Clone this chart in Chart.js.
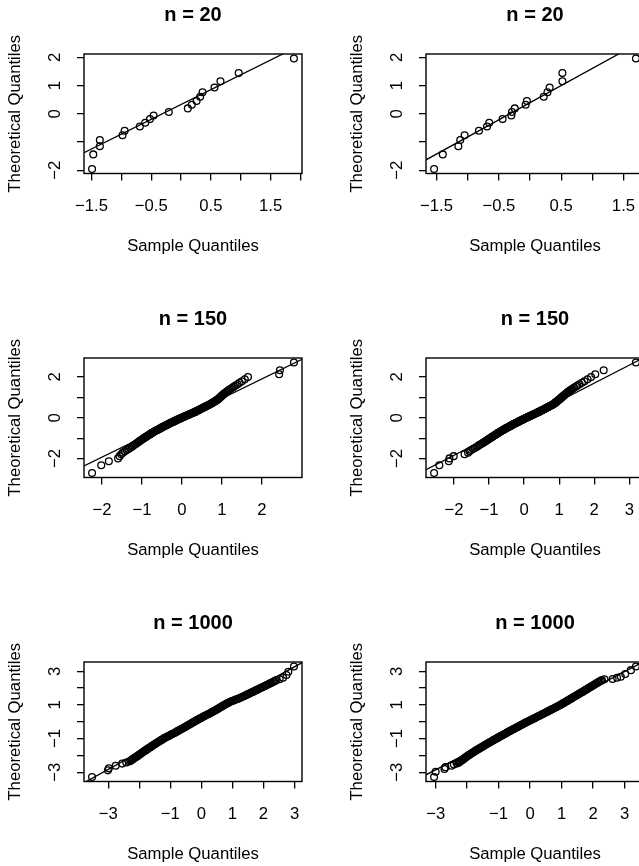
<!DOCTYPE html>
<html>
<head>
<meta charset="utf-8">
<script src="https://cdn.jsdelivr.net/npm/chart.js@4.4.1/dist/chart.umd.min.js"></script>
<style>
  html, body { margin: 0; padding: 0; background: #ffffff; }
  body { width: 639px; height: 866px; overflow: hidden; position: relative; }
  canvas { position: absolute; }
</style>
</head>
<body>
<canvas id="p1" width="342" height="304" style="left:0px;top:0px"></canvas>
<canvas id="p2" width="342" height="304" style="left:342px;top:0px"></canvas>
<canvas id="p3" width="342" height="304" style="left:0px;top:304px"></canvas>
<canvas id="p4" width="342" height="304" style="left:342px;top:304px"></canvas>
<canvas id="p5" width="342" height="304" style="left:0px;top:608px"></canvas>
<canvas id="p6" width="342" height="304" style="left:342px;top:608px"></canvas>
<script>
// ---- n = 20 : theoretical quantiles and two sorted samples ----
const theo20 = [-1.96, -1.44, -1.15, -0.93, -0.76, -0.60, -0.45, -0.32, -0.19, -0.06,
                0.06, 0.19, 0.32, 0.45, 0.60, 0.76, 0.93, 1.15, 1.44, 1.96];
const sampleA20 = [-1.49, -1.47, -1.36, -1.36, -0.98, -0.945, -0.69, -0.60, -0.52, -0.46,
                   -0.205, 0.113, 0.18, 0.26, 0.32, 0.36, 0.56, 0.66, 0.965, 1.89];
const sampleB20 = [-1.54, -1.40, -1.15, -1.12, -1.05, -0.82, -0.69, -0.655, -0.44, -0.30,
                   -0.29, -0.245, -0.07, -0.05, 0.22, 0.28, 0.315, 0.52, 0.52, 1.70];

// ---- n = 150 : shared theoretical quantiles, two sorted samples ----
const theo150 = [-2.71, -2.33, -2.13, -1.99, -1.88, -1.79, -1.71, -1.64,
  -1.58, -1.53, -1.48, -1.43, -1.38, -1.34, -1.30, -1.26, -1.23, -1.19, -1.16, -1.13, -1.10, -1.07, -1.04, -1.01,
  -0.98, -0.95, -0.93, -0.90, -0.88, -0.85, -0.83, -0.81, -0.78, -0.76, -0.74, -0.72, -0.70,
  -0.67, -0.65, -0.63, -0.61, -0.59, -0.57, -0.55, -0.53, -0.52, -0.50, -0.48, -0.46, -0.44, -0.42, -0.40,
  -0.39, -0.37, -0.35, -0.33, -0.31, -0.30, -0.28, -0.26, -0.25, -0.23, -0.21, -0.19, -0.18, -0.16, -0.14,
  -0.13, -0.11, -0.09, -0.08, -0.06, -0.04, -0.03, -0.01,
  0.01, 0.03, 0.04, 0.06, 0.08, 0.09, 0.11, 0.13, 0.14, 0.16, 0.18, 0.19, 0.21, 0.23, 0.25, 0.26,
  0.28, 0.30, 0.31, 0.33, 0.35, 0.37, 0.39,
  0.40, 0.42, 0.44, 0.46, 0.48, 0.50, 0.52, 0.53, 0.55, 0.57, 0.59, 0.61, 0.63, 0.65, 0.67,
  0.70, 0.72, 0.74, 0.76, 0.78, 0.81, 0.83, 0.85, 0.88, 0.90, 0.93, 0.95, 0.98,
  1.01, 1.04, 1.07, 1.10, 1.13, 1.16, 1.19, 1.23, 1.26, 1.30, 1.34, 1.38, 1.43, 1.48, 1.53, 1.58,
  1.64, 1.71, 1.79, 1.88, 1.99, 2.13, 2.33, 2.71];
const sampleA150 = [-2.25, -2.02, -1.83, -1.60, -1.56, -1.52, -1.48, -1.43,
  -1.38, -1.34, -1.30, -1.26, -1.23, -1.20, -1.17, -1.14, -1.12, -1.09, -1.07, -1.05, -1.03, -1.00, -0.98, -0.96,
  -0.94, -0.91, -0.90, -0.87, -0.86, -0.83, -0.82, -0.80, -0.78, -0.76, -0.75, -0.73, -0.71,
  -0.69, -0.67, -0.65, -0.63, -0.61, -0.59, -0.57, -0.55, -0.54, -0.53, -0.51, -0.49, -0.47, -0.45, -0.43,
  -0.42, -0.40, -0.38, -0.36, -0.34, -0.33, -0.31, -0.29, -0.28, -0.26, -0.24, -0.21, -0.20, -0.18, -0.16,
  -0.15, -0.13, -0.11, -0.10, -0.07, -0.05, -0.04, -0.02,
  0.00, 0.03, 0.04, 0.06, 0.08, 0.10, 0.12, 0.14, 0.16, 0.18, 0.20, 0.21, 0.24, 0.26, 0.28, 0.30,
  0.32, 0.34, 0.35, 0.37, 0.39, 0.41, 0.43,
  0.44, 0.46, 0.48, 0.50, 0.52, 0.54, 0.56, 0.57, 0.59, 0.61, 0.63, 0.65, 0.67, 0.69, 0.71,
  0.74, 0.75, 0.77, 0.79, 0.80, 0.83, 0.84, 0.86, 0.88, 0.90, 0.92, 0.93, 0.94,
  0.96, 0.98, 0.99, 1.01, 1.03, 1.04, 1.06, 1.09, 1.11, 1.13, 1.16, 1.19, 1.23, 1.27, 1.30, 1.34,
  1.39, 1.44, 1.50, 1.57, 1.65, 2.43, 2.45, 2.80];
const sampleB150 = [-2.57, -2.42, -2.15, -2.13, -2.01, -1.70, -1.60, -1.56,
  -1.51, -1.46, -1.41, -1.36, -1.31, -1.28, -1.24, -1.20, -1.17, -1.14, -1.11, -1.08, -1.06, -1.03, -1.00, -0.98,
  -0.95, -0.92, -0.91, -0.88, -0.86, -0.83, -0.82, -0.80, -0.77, -0.75, -0.74, -0.72, -0.70,
  -0.67, -0.65, -0.63, -0.61, -0.59, -0.57, -0.55, -0.53, -0.52, -0.50, -0.47, -0.45, -0.43, -0.41, -0.39,
  -0.38, -0.36, -0.34, -0.32, -0.30, -0.28, -0.26, -0.24, -0.23, -0.20, -0.18, -0.16, -0.15, -0.12, -0.10,
  -0.09, -0.06, -0.04, -0.03, -0.01, 0.02, 0.03, 0.05,
  0.08, 0.10, 0.11, 0.14, 0.16, 0.18, 0.20, 0.23, 0.24, 0.26, 0.29, 0.30, 0.32, 0.35, 0.37, 0.39,
  0.41, 0.43, 0.45, 0.47, 0.49, 0.51, 0.53,
  0.55, 0.57, 0.59, 0.61, 0.63, 0.66, 0.68, 0.69, 0.71, 0.73, 0.76, 0.78, 0.80, 0.82, 0.84,
  0.87, 0.88, 0.89, 0.91, 0.92, 0.94, 0.96, 0.97, 0.99, 1.01, 1.03, 1.04, 1.06,
  1.08, 1.10, 1.12, 1.14, 1.16, 1.18, 1.20, 1.23, 1.25, 1.28, 1.31, 1.35, 1.39, 1.43, 1.48, 1.52,
  1.58, 1.65, 1.72, 1.81, 1.91, 2.03, 2.27, 3.19];

// ---- n = 1000 : points along the dense band plus the separate tail points ----
const theoA1000 = [-3.29, -2.89, -2.77, -2.62, -2.49, -2.42,
  -2.36, -2.32, -2.28, -2.24, -2.20, -2.16, -2.12, -2.08, -2.04, -2.00,
  -1.96, -1.92, -1.88, -1.84, -1.80, -1.76, -1.72, -1.68, -1.64, -1.60,
  -1.56, -1.52, -1.48, -1.44, -1.40, -1.36, -1.32, -1.28, -1.24, -1.20,
  -1.16, -1.12, -1.08, -1.04, -1.00, -0.96, -0.92, -0.88, -0.84, -0.80,
  -0.76, -0.72, -0.68, -0.64, -0.60, -0.56, -0.52, -0.48, -0.44, -0.40,
  -0.36, -0.32, -0.28, -0.24, -0.20, -0.16, -0.12, -0.08, -0.04, 0.00,
  0.04, 0.08, 0.12, 0.16, 0.20, 0.24, 0.28, 0.32, 0.36, 0.40,
  0.44, 0.48, 0.52, 0.56, 0.60, 0.64, 0.68, 0.72, 0.76, 0.80,
  0.84, 0.88, 0.92, 0.96, 1.00, 1.04, 1.08, 1.12, 1.16, 1.20,
  1.24, 1.28, 1.32, 1.36, 1.40, 1.44, 1.48, 1.52, 1.56, 1.60,
  1.64, 1.68, 1.72, 1.76, 1.80, 1.84, 1.88, 1.92, 1.96, 2.00,
  2.04, 2.08, 2.12, 2.16, 2.20, 2.24, 2.28, 2.32, 2.36, 2.40,
  2.44, 2.48,
  2.53, 2.62, 2.78, 2.97, 3.29];
const sampleA1000 = [-3.52, -3.01, -2.98, -2.76, -2.55, -2.42,
  -2.32, -2.28, -2.25, -2.22, -2.19, -2.16, -2.13, -2.09, -2.06, -2.03,
  -2.00, -1.97, -1.94, -1.91, -1.88, -1.85, -1.81, -1.78, -1.75, -1.72,
  -1.69, -1.65, -1.62, -1.59, -1.56, -1.52, -1.49, -1.46, -1.42, -1.39,
  -1.35, -1.32, -1.28, -1.25, -1.21, -1.18, -1.14, -1.09, -1.05, -1.01,
  -0.97, -0.93, -0.88, -0.84, -0.80, -0.77, -0.73, -0.69, -0.65, -0.61,
  -0.57, -0.53, -0.49, -0.46, -0.42, -0.38, -0.35, -0.31, -0.27, -0.23,
  -0.20, -0.16, -0.12, -0.08, -0.04, 0.00, 0.04, 0.08, 0.12, 0.16,
  0.21, 0.25, 0.29, 0.33, 0.37, 0.41, 0.45, 0.49, 0.52, 0.56,
  0.60, 0.63, 0.67, 0.70, 0.74, 0.78, 0.82, 0.86, 0.90, 0.95,
  1.00, 1.06, 1.11, 1.17, 1.22, 1.27, 1.32, 1.37, 1.41, 1.46,
  1.50, 1.55, 1.59, 1.64, 1.68, 1.72, 1.77, 1.81, 1.86, 1.90,
  1.95, 1.99, 2.04, 2.08, 2.12, 2.17, 2.21, 2.26, 2.30, 2.34,
  2.38, 2.42,
  2.52, 2.63, 2.74, 2.80, 2.98];

const theoB1000 = [-3.29, -2.97, -2.81, -2.70, -2.61, -2.54, -2.48,
  -2.44, -2.40, -2.36, -2.32, -2.28, -2.24, -2.20, -2.16, -2.12, -2.08,
  -2.04, -2.00, -1.96, -1.92, -1.88, -1.84, -1.80, -1.76, -1.72, -1.68,
  -1.64, -1.60, -1.56, -1.52, -1.48, -1.44, -1.40, -1.36, -1.32, -1.28,
  -1.24, -1.20, -1.16, -1.12, -1.08, -1.04, -1.00, -0.96, -0.92, -0.88,
  -0.84, -0.80, -0.76, -0.72, -0.68, -0.64, -0.60, -0.56, -0.52, -0.48,
  -0.44, -0.40, -0.36, -0.32, -0.28, -0.24, -0.20, -0.16, -0.12, -0.08,
  -0.04, 0.00, 0.04, 0.08, 0.12, 0.16, 0.20, 0.24, 0.28, 0.32,
  0.36, 0.40, 0.44, 0.48, 0.52, 0.56, 0.60, 0.64, 0.68, 0.72,
  0.76, 0.80, 0.84, 0.88, 0.92, 0.96, 1.00, 1.04, 1.08, 1.12,
  1.16, 1.20, 1.24, 1.28, 1.32, 1.36, 1.40, 1.44, 1.48, 1.52,
  1.56, 1.60, 1.64, 1.68, 1.72, 1.76, 1.80, 1.84, 1.88, 1.92,
  1.96, 2.00, 2.04, 2.08, 2.12, 2.16, 2.20, 2.24, 2.28, 2.32,
  2.36, 2.40, 2.44, 2.48,
  2.52, 2.54, 2.62, 2.68, 2.84, 3.07, 3.29];
const sampleB1000 = [-3.05, -3.00, -2.72, -2.69, -2.50, -2.42, -2.33,
  -2.27, -2.25, -2.22, -2.19, -2.16, -2.13, -2.10, -2.08, -2.05, -2.02,
  -1.99, -1.96, -1.93, -1.89, -1.86, -1.83, -1.79, -1.76, -1.73, -1.69,
  -1.66, -1.62, -1.59, -1.55, -1.51, -1.48, -1.44, -1.41, -1.37, -1.33,
  -1.30, -1.26, -1.22, -1.18, -1.15, -1.11, -1.07, -1.03, -1.00, -0.96,
  -0.92, -0.88, -0.84, -0.80, -0.76, -0.73, -0.69, -0.65, -0.61, -0.57,
  -0.53, -0.49, -0.45, -0.41, -0.37, -0.33, -0.29, -0.25, -0.21, -0.17,
  -0.13, -0.09, -0.04, 0.00, 0.04, 0.08, 0.13, 0.17, 0.21, 0.25,
  0.30, 0.34, 0.38, 0.42, 0.46, 0.51, 0.55, 0.59, 0.63, 0.67,
  0.71, 0.76, 0.80, 0.84, 0.88, 0.92, 0.96, 1.00, 1.03, 1.07,
  1.11, 1.14, 1.18, 1.21, 1.25, 1.29, 1.32, 1.36, 1.39, 1.43,
  1.47, 1.50, 1.54, 1.57, 1.61, 1.65, 1.68, 1.72, 1.75, 1.79,
  1.82, 1.86, 1.89, 1.93, 1.96, 2.00, 2.03, 2.07, 2.10, 2.14,
  2.17, 2.21, 2.25, 2.28,
  2.36, 2.62, 2.76, 2.88, 3.02, 3.20, 3.36];

// ---- reference lines through the quartiles: [intercept, slope] ----
const lineA20 = [0.328, 1.051];
const lineB20 = [0.392, 1.213];
const lineA150 = [-0.01, 0.957];
const lineB150 = [-0.075, 0.883];
const lineA1000 = [0.218, 1.017];
const lineB1000 = [0.064, 0.974];

// ---- axis ticks and their labels ('' = tick mark only) ----
const xTicks20A = [-1.5, -1, -0.5, 0, 0.5, 1, 1.5, 2];
const xLabels20A = ['\u22121.5', '', '\u22120.5', '', '0.5', '', '1.5', ''];
const xTicks20B = [-1.5, -1, -0.5, 0, 0.5, 1, 1.5];
const xLabels20B = ['\u22121.5', '', '\u22120.5', '', '0.5', '', '1.5'];
const yTicks20 = [-2, -1, 0, 1, 2];
const yLabels20 = ['\u22122', '', '0', '1', '2'];
const xTicks150A = [-2, -1, 0, 1, 2];
const xLabels150A = ['\u22122', '\u22121', '0', '1', '2'];
const xTicks150B = [-2, -1, 0, 1, 2, 3];
const xLabels150B = ['\u22122', '\u22121', '0', '1', '2', '3'];
const yTicks150 = [-2, -1, 0, 1, 2];
const yLabels150 = ['\u22122', '', '0', '', '2'];
const xTicks1000 = [-3, -2, -1, 0, 1, 2, 3];
const xLabels1000 = ['\u22123', '', '\u22121', '0', '1', '2', '3'];
const yTicks1000 = [-3, -2, -1, 0, 1, 2, 3];
const yLabels1000 = ['\u22123', '', '\u22121', '', '1', '', '3'];

const FONT = '"Liberation Sans", Arial, Helvetica, sans-serif';

// data range widened by 4% on each side
function paddedRange(values) {
  const lo = Math.min(...values), hi = Math.max(...values);
  const d = (hi - lo) * 0.04;
  return [lo - d, hi + d];
}

// closed frame around the plotting region
const framePlugin = {
  id: 'frame',
  afterDatasetsDraw(chart) {
    const { ctx, chartArea: a } = chart;
    ctx.save();
    ctx.strokeStyle = '#000';
    ctx.lineWidth = 1.4;
    ctx.strokeRect(a.left, a.top, a.right - a.left, a.bottom - a.top);
    ctx.restore();
  }
};

function qqPanel(id, title, sample, theo, line, xTicks, xLabels, yTicks, yLabels) {
  const [xMin, xMax] = paddedRange(sample);
  const [yMin, yMax] = paddedRange(theo);
  const points = sample.map((x, i) => ({ x: x, y: theo[i] }));
  const linePts = [
    { x: xMin, y: line[0] + line[1] * xMin },
    { x: xMax, y: line[0] + line[1] * xMax }
  ];
  new Chart(document.getElementById(id), {
    type: 'scatter',
    data: {
      datasets: [
        {
          type: 'line', data: linePts, borderColor: '#000', borderWidth: 1.3,
          pointRadius: 0, fill: false, tension: 0
        },
        {
          data: points, pointStyle: 'circle', pointRadius: 3.4, pointHoverRadius: 3.4,
          pointBorderWidth: 1.3, borderColor: '#000', backgroundColor: 'rgba(0,0,0,0)'
        }
      ]
    },
    options: {
      responsive: false,
      animation: false,
      events: [],
      layout: { padding: { left: 0, right: 40, top: 0, bottom: 0 } },
      plugins: {
        legend: { display: false },
        tooltip: { enabled: false },
        title: {
          display: true, text: title, fullSize: false, color: '#000',
          font: { family: FONT, size: 20, weight: 'bold', lineHeight: 1.2 },
          padding: { top: 3.5, bottom: 26.5 }
        }
      },
      scales: {
        x: {
          type: 'linear', min: xMin, max: xMax,
          afterBuildTicks: s => { s.ticks = xTicks.map(v => ({ value: v })); },
          afterFit: s => { s.height = 130.5; },
          ticks: {
            autoSkip: false, minRotation: 0, maxRotation: 0, padding: 16, color: '#000',
            font: { family: FONT, size: 16.7, lineHeight: 1.2 },
            callback: (v, i) => xLabels[i]
          },
          grid: { display: true, drawOnChartArea: false, drawTicks: true, tickLength: 7, color: '#000', lineWidth: 1.3 },
          border: { display: false },
          title: {
            display: true, text: 'Sample Quantiles', color: '#000',
            font: { family: FONT, size: 16.7, lineHeight: 1.2 },
            padding: { top: 0, bottom: 48 }
          }
        },
        y: {
          type: 'linear', min: yMin, max: yMax,
          afterBuildTicks: s => { s.ticks = yTicks.map(v => ({ value: v })); },
          afterFit: s => { s.width = 84; },
          ticks: {
            autoSkip: false, minRotation: 90, maxRotation: 90, crossAlign: 'center',
            padding: 12.5, color: '#000',
            font: { family: FONT, size: 16.7, lineHeight: 1.2 },
            callback: (v, i) => yLabels[i]
          },
          grid: { display: true, drawOnChartArea: false, drawTicks: true, tickLength: 7, color: '#000', lineWidth: 1.3 },
          border: { display: false },
          title: {
            display: true, text: 'Theoretical Quantiles', color: '#000',
            font: { family: FONT, size: 16.7, lineHeight: 1.2 },
            padding: { top: 5, bottom: 0 }
          }
        }
      }
    },
    plugins: [framePlugin]
  });
}

qqPanel('p1', 'n = 20', sampleA20, theo20, lineA20, xTicks20A, xLabels20A, yTicks20, yLabels20);
qqPanel('p2', 'n = 20', sampleB20, theo20, lineB20, xTicks20B, xLabels20B, yTicks20, yLabels20);
qqPanel('p3', 'n = 150', sampleA150, theo150, lineA150, xTicks150A, xLabels150A, yTicks150, yLabels150);
qqPanel('p4', 'n = 150', sampleB150, theo150, lineB150, xTicks150B, xLabels150B, yTicks150, yLabels150);
qqPanel('p5', 'n = 1000', sampleA1000, theoA1000, lineA1000, xTicks1000, xLabels1000, yTicks1000, yLabels1000);
qqPanel('p6', 'n = 1000', sampleB1000, theoB1000, lineB1000, xTicks1000, xLabels1000, yTicks1000, yLabels1000);
</script>
</body>
</html>
